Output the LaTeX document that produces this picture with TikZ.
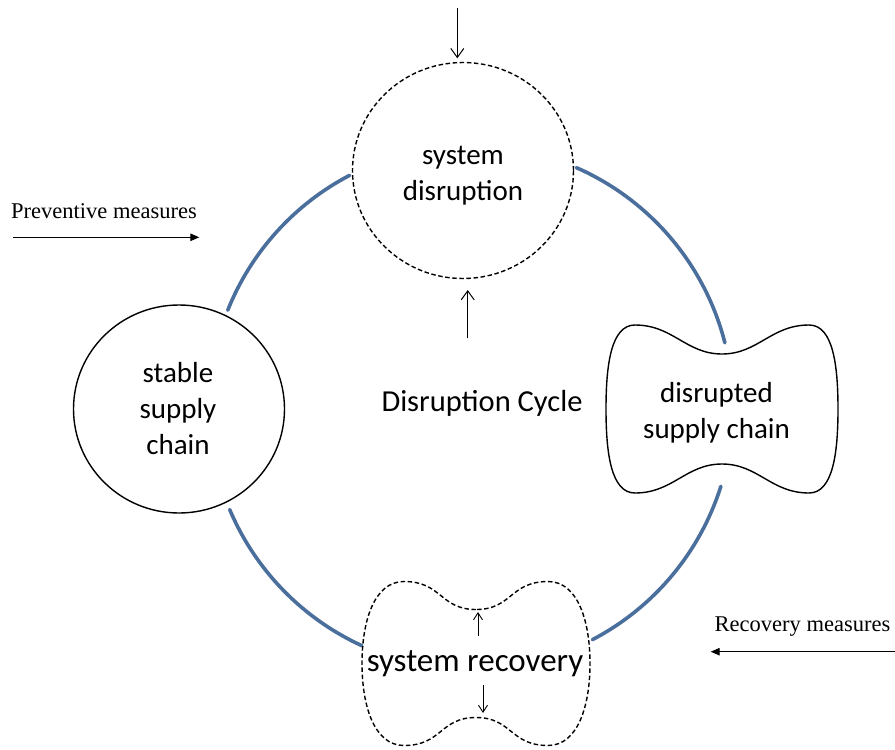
\documentclass[tikz,border=0pt]{standalone}
\usepackage{fontspec}
\setmainfont{Carlito}
\newfontfamily\timesfont{Liberation Serif}
\usetikzlibrary{arrows.meta,shapes.geometric,calc}

\definecolor{cycleblue}{RGB}{74,111,156}

% Peanut-shaped outline centred on the origin:
% #1 half width, #2 half height at the lobes, #3 depth of the notches,
% #4 x of the lobe tops, #5 horizontal pull of the rounded corners
\newcommand\bonecurve[5]{%
  (0,-#3) .. controls (-36,-#3) and ({-#4+38},-#2) .. ({-#4},-#2)
  .. controls ({-#4-#5},-#2) and (-#1,{-#2+40}) .. (-#1,0)
  .. controls (-#1,{#2-40}) and ({-#4-#5},#2) .. ({-#4},#2)
  .. controls ({-#4+38},#2) and (-36,#3) .. (0,#3)
  .. controls (36,#3) and ({#4-38},#2) .. (#4,#2)
  .. controls ({#4+#5},#2) and (#1,{#2-40}) .. (#1,0)
  .. controls (#1,{-#2+40}) and ({#4+#5},-#2) .. (#4,-#2)
  .. controls ({#4-38},-#2) and (36,-#3) .. (0,-#3) -- cycle}

\begin{document}
\begin{tikzpicture}[x=1pt,y=-1pt,
  cyclearc/.style={line width=3.6pt, draw=cycleblue, line cap=round},
  solidborder/.style={draw=black, line width=1.4pt},
  dashborder/.style={draw=black, line width=1.4pt, dash pattern=on 4.5pt off 2.6pt},
  stagelabel/.style={font=\fontsize{29}{36}\selectfont, align=center, inner sep=0pt},
  measure/.style={font=\timesfont\fontsize{22.5}{27}\selectfont, inner sep=0pt, anchor=base west},
  inarrow/.style={line width=1pt, -{Straight Barb[length=9pt,width=13pt]}},
  smallarrow/.style={line width=0.9pt, -{Straight Barb[length=7pt,width=9pt]}},
  measurearrow/.style={line width=1pt, -{Triangle[length=9pt,width=7.5pt]}}]

\useasboundingbox (0,0) rectangle (895,750);
\fill[white] (0,0) rectangle (895,750);

% centre of the cycle
\coordinate (hub) at (471,407.5);

% ends of the four blue arcs of the cycle
\coordinate (a1) at ($(hub)+(201.8:262)$);
\coordinate (a2) at ($(hub)+(293.7:262)$);
\coordinate (a3) at ($(hub)+(17.5:262)$);
\coordinate (a4) at ($(hub)+(114.6:262)$);

\draw[cyclearc] (a1) arc[start angle=201.8, end angle=242.4, radius=262];
\draw[cyclearc] (a2) arc[start angle=293.7, end angle=345.7, radius=262];
\draw[cyclearc] (a3) arc[start angle=17.5, end angle=62.4, radius=262];
\draw[cyclearc] (a4) arc[start angle=114.6, end angle=157.1, radius=262];

% system disruption
\node[ellipse, dashborder, minimum width=221pt, minimum height=216pt, inner sep=0pt] (disrcircle) at (463,170.5) {};
\node[stagelabel] (disrtext) at (463,175.5) {system\\disruption};

% stable supply chain
\node[ellipse, solidborder, minimum width=211pt, minimum height=208pt, inner sep=0pt] (stable) at (179,409) {};
\node[stagelabel] (stabletext) at (178,408.5) {stable\\supply\\chain};

% disrupted supply chain
\draw[solidborder, shift={(722,409)}] \bonecurve{116}{84}{55}{87}{24};
\node[stagelabel] (disruptedtext) at (716.5,412.3) {disrupted\\supply chain};

% system recovery
\draw[dashborder, shift={(476,663.5)}] \bonecurve{114}{82}{54}{72}{30};
\node[font=\fontsize{33}{40}\selectfont, inner sep=0pt, anchor=base] (recoverytext) at (475,671.7) {system recovery};

% centre title
\node[font=\fontsize{30.5}{36}\selectfont, inner sep=0pt, anchor=base] (title) at (482,411.7) {Disruption Cycle};

% arrows at the disruption circle
\coordinate (topin) at (457.3,8);
\coordinate (topend) at (457.3,58.3);
\draw[inarrow] (topin) -- (topend);
\coordinate (upin) at (467.7,338);
\coordinate (upend) at (467.7,290);
\draw[inarrow] (upin) -- (upend);

% arrows inside the recovery shape
\coordinate (recupin) at (478,636);
\coordinate (recupend) at (478,612);
\draw[smallarrow] (recupin) -- (recupend);
\coordinate (recdownin) at (483,685);
\coordinate (recdownend) at (483,713);
\draw[smallarrow] (recdownin) -- (recdownend);

% measures
\node[measure] (preventive) at (11,218.3) {Preventive measures};
\coordinate (prevstart) at (13.3,237.3);
\coordinate (prevend) at (199.3,237.3);
\draw[measurearrow] (prevstart) -- (prevend);

\node[measure] (recoverym) at (714.5,631.7) {Recovery measures};
\coordinate (recstart) at (895,651.7);
\coordinate (recend) at (710.7,651.7);
\draw[measurearrow] (recstart) -- (recend);

\end{tikzpicture}
\end{document}
